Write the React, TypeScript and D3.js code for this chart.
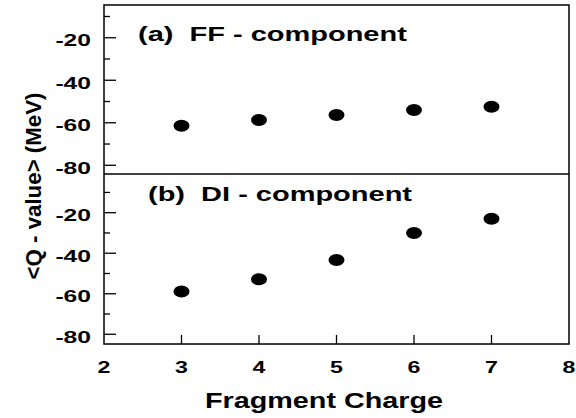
import React from "react";
import { scaleLinear } from "d3";

const charges = [3, 4, 5, 6, 7];
const ffQ = [-61.4, -58.7, -56.4, -54, -52.5];
const diQ = [-58.9, -52.9, -43.4, -30, -23];
const xTicks = [2, 3, 4, 5, 6, 7, 8];
const yMajor = [-80, -60, -40, -20];
const yMinor = [-70, -50, -30, -10];
const panelLabels = ["(a)  FF - component", "(b)  DI - component"];

const FONT = "'Liberation Sans', Arial, Helvetica, sans-serif";
const SX = 1.45;

function Panel({ x, yScale, values, label, labelX, labelY, left }) {
  return (
    <g>
      {yMajor.map(v => (
        <g key={"M" + v}>
          <line x1={left} x2={left + 12} y1={yScale(v)} y2={yScale(v)} stroke="#000" strokeWidth={1.3} />
          <text
            transform={`translate(${91},${yScale(v) + 8.3}) scale(${SX},1)`}
            textAnchor="end"
            fontFamily={FONT}
            fontWeight="bold"
            fontSize={17}
          >
            {v}
          </text>
        </g>
      ))}
      {yMinor.map(v => (
        <line key={"m" + v} x1={left} x2={left + 6} y1={yScale(v)} y2={yScale(v)} stroke="#000" strokeWidth={1.3} />
      ))}
      <text
        transform={`translate(${labelX},${labelY}) scale(${SX},1)`}
        fontFamily={FONT}
        fontWeight="bold"
        fontSize={20}
      >
        {label.replace("  ", "\u00a0\u00a0")}
      </text>
      {values.map((v, i) => (
        <ellipse key={i} cx={x(charges[i])} cy={yScale(v)} rx={8} ry={6} fill="#000" />
      ))}
    </g>
  );
}

export default function App() {
  const width = 576,
    height = 418;
  const left = 104,
    right = 569,
    top = 5,
    mid = 174,
    bottom = 344;

  const x = scaleLinear().domain([2, 8]).range([left, right]);
  const yTopPanel = scaleLinear().domain([-84.1, -4.6]).range([mid, top]);
  const yBotPanel = scaleLinear().domain([-84.8, -0.9]).range([bottom, mid]);

  return (
    <svg
      width={width}
      height={height}
      style={{ position: "absolute", left: 0, top: 0, background: "#fff" }}
    >
      <rect x={left} y={top} width={right - left} height={bottom - top} fill="none" stroke="#000" strokeWidth={1.5} />
      <line x1={left} x2={right} y1={mid} y2={mid} stroke="#000" strokeWidth={1.3} />

      <Panel x={x} yScale={yTopPanel} values={ffQ} label={panelLabels[0]} labelX={138} labelY={41} left={left} />
      <Panel x={x} yScale={yBotPanel} values={diQ} label={panelLabels[1]} labelX={148} labelY={201} left={left} />

      {xTicks.map(t => (
        <g key={t}>
          {t > 2 && t < 8 && (
            <line x1={x(t)} x2={x(t)} y1={bottom} y2={bottom - 9} stroke="#000" strokeWidth={1.3} />
          )}
          <text
            transform={`translate(${x(t)},${372.5}) scale(${SX},1)`}
            textAnchor="middle"
            fontFamily={FONT}
            fontWeight="bold"
            fontSize={16}
          >
            {t}
          </text>
        </g>
      ))}

      <text
        x={324}
        y={408}
        textAnchor="middle"
        fontFamily={FONT}
        fontWeight="bold"
        fontSize={22}
        textLength={238}
        lengthAdjust="spacingAndGlyphs"
      >
        Fragment Charge
      </text>
      <text
        transform={`translate(${41},${186}) rotate(-90)`}
        textAnchor="middle"
        fontFamily={FONT}
        fontWeight="bold"
        fontSize={22}
        textLength={187}
        lengthAdjust="spacingAndGlyphs"
      >
        {"<Q - value> (MeV)"}
      </text>
    </svg>
  );
}
